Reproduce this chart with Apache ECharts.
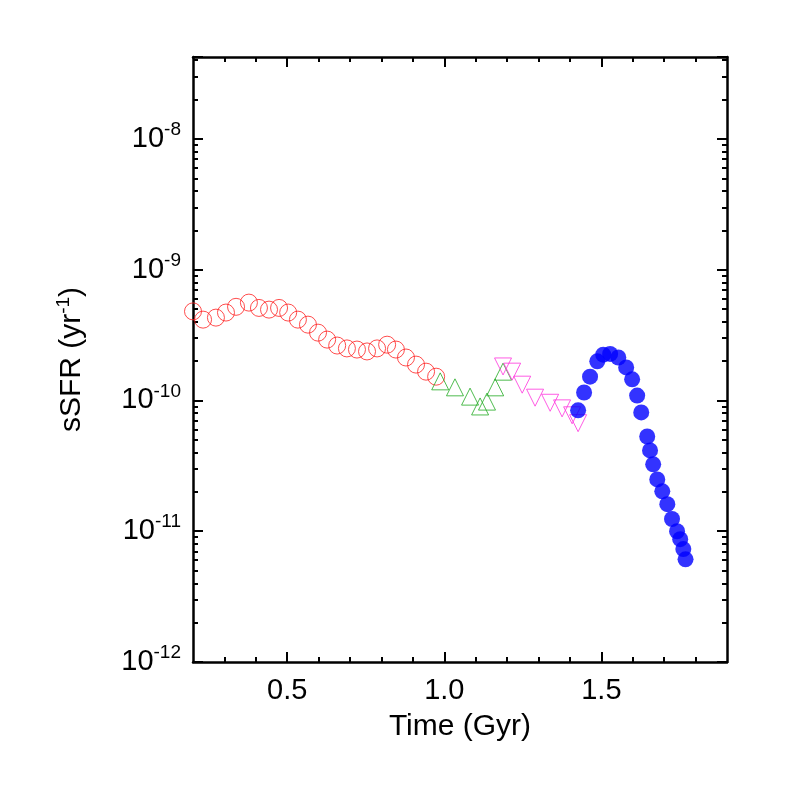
<!DOCTYPE html>
<html><head><meta charset="utf-8">
<script src="https://cdn.jsdelivr.net/npm/echarts@6/dist/echarts.min.js"></script>
<style>html,body{margin:0;background:#fff}#c{width:786px;height:786px}</style>
</head><body><div id="c"></div>
<script>
const redX = [0.200,0.232,0.273,0.305,0.337,0.378,0.410,0.442,0.474,0.503,0.534,0.566,0.598,0.627,0.659,0.690,0.722,0.754,0.786,0.818,0.846,0.878,0.910,0.942,0.974];
const redY = [4.8e-10,4.15e-10,4.3e-10,4.7e-10,5.2e-10,5.6e-10,5.1e-10,4.95e-10,5.1e-10,4.7e-10,4.15e-10,3.8e-10,3.3e-10,2.92e-10,2.63e-10,2.5e-10,2.45e-10,2.37e-10,2.5e-10,2.67e-10,2.45e-10,2.13e-10,1.88e-10,1.66e-10,1.52e-10];
const greenX = [0.987,1.034,1.082,1.114,1.136,1.162,1.187];
const greenY = [1.40e-10,1.26e-10,1.07e-10,9.0e-11,9.8e-11,1.26e-10,1.66e-10];
const pinkX = [1.187,1.216,1.248,1.289,1.337,1.375,1.407,1.426];
const pinkY = [1.82e-10,1.66e-10,1.32e-10,1.05e-10,9.6e-11,8.7e-11,7.7e-11,6.7e-11];
const blueX = [1.426,1.445,1.464,1.487,1.506,1.528,1.554,1.579,1.598,1.614,1.627,1.646,1.655,1.665,1.678,1.694,1.710,1.725,1.741,1.751,1.761,1.768];
const blueY = [8.4e-11,1.15e-10,1.52e-10,1.99e-10,2.24e-10,2.27e-10,2.13e-10,1.79e-10,1.45e-10,1.09e-10,8.1e-11,5.3e-11,4.15e-11,3.25e-11,2.49e-11,2.02e-11,1.61e-11,1.24e-11,1.0e-11,8.7e-12,7.3e-12,6.1e-12];
const xTicks = [0.5,1.0,1.5];
const xMinorTicks = [0.3,0.4,0.6,0.7,0.8,0.9,1.1,1.2,1.3,1.4,1.6,1.7,1.8];
const yTickExp = [-12,-11,-10,-9,-8];

const zip = (a,b)=>a.map((v,i)=>[v,b[i]]);
const font = 'Liberation Sans, Arial, sans-serif';
const chart = echarts.init(document.getElementById('c'));
const axLine = {show:true,lineStyle:{color:'#000',width:2.5}};
const xBase = {type:'value',min:0.2,max:1.9,splitLine:{show:false},axisLine:axLine,
  axisTick:{inside:true,length:10,lineStyle:{width:2,color:'#000'},customValues:xTicks}};
const xMinor = {type:'value',min:0.2,max:1.9,splitLine:{show:false},axisLine:{show:false},axisLabel:{show:false},
  axisTick:{inside:true,length:5,lineStyle:{width:2,color:'#000'},customValues:xMinorTicks}};
const yBase = {type:'log',logBase:10,min:1e-12,max:4.23e-8,splitLine:{show:false},axisLine:axLine,
  axisTick:{inside:true,length:10,lineStyle:{width:2,color:'#000'}},
  minorTick:{show:true,splitNumber:9,length:5,lineStyle:{width:2,color:'#000'}}};
chart.setOption({
  animation:false,
  grid:{left:193,right:59,top:57,bottom:124},
  xAxis:[
    Object.assign({},xBase,{position:'bottom',name:'Time (Gyr)',nameLocation:'middle',nameGap:50,
      nameTextStyle:{fontSize:30,color:'#000',fontFamily:font},
      axisLabel:{customValues:xTicks,margin:14,fontSize:29,color:'#000',fontFamily:font,formatter:v=>v.toFixed(1)}}),
    Object.assign({},xBase,{position:'top',axisLabel:{show:false}}),
    Object.assign({},xMinor,{position:'bottom'}),
    Object.assign({},xMinor,{position:'top'})
  ],
  yAxis:[
    Object.assign({},yBase,{position:'left',
      name:'{a|sSFR (yr}{s|-1}{a|)}',nameLocation:'middle',nameGap:104,
      nameTextStyle:{rich:{a:{fontSize:30,color:'#000',fontFamily:font},s:{fontSize:19,color:'#000',fontFamily:font,verticalAlign:'top',padding:[0,0,16,0]}}},
      axisLabel:{margin:12,fontFamily:font,
        formatter:v=>{const e=Math.round(Math.log10(v));return yTickExp.includes(e)?'{b|10}{s|'+e+'}':'';},
        rich:{b:{fontSize:29,color:'#000',fontFamily:font},s:{fontSize:19,color:'#000',fontFamily:font,verticalAlign:'top',padding:[0,0,18,0]}}}}),
    Object.assign({},yBase,{position:'right',axisLabel:{show:false}})
  ],
  series:[
    {type:'scatter',data:zip(redX,redY),symbol:'circle',symbolSize:17,itemStyle:{color:'rgba(0,0,0,0)',borderColor:'#ff2020',borderWidth:1}},
    {type:'scatter',data:zip(greenX,greenY),symbol:'triangle',symbolSize:17,itemStyle:{color:'rgba(0,0,0,0)',borderColor:'#22aa22',borderWidth:1}},
    {type:'scatter',data:zip(pinkX,pinkY),symbol:'triangle',symbolRotate:180,symbolSize:17,itemStyle:{color:'rgba(0,0,0,0)',borderColor:'#ff33dd',borderWidth:1}},
    {type:'scatter',data:zip(blueX,blueY),symbol:'circle',symbolSize:16,itemStyle:{color:'#0000ff'}}
  ]
});
</script></body></html>
